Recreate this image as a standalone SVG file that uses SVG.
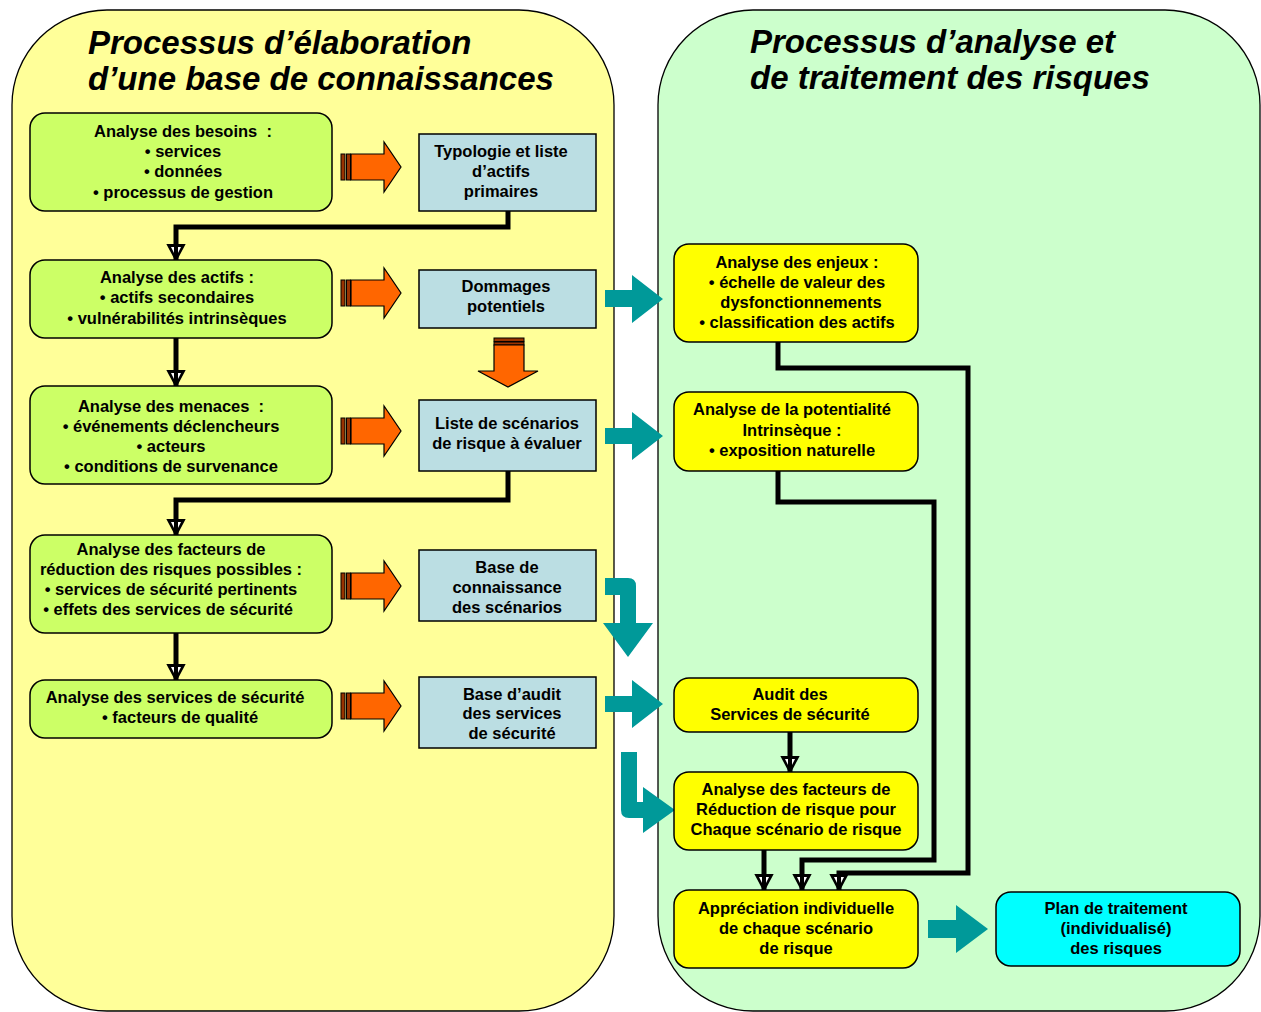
<svg xmlns="http://www.w3.org/2000/svg" width="1261" height="1012" viewBox="0 0 1261 1012">
<style>
.title{font-family:"Liberation Sans",Arial,sans-serif;font-weight:bold;font-style:italic;font-size:33px;fill:#000}
.t{font-family:"Liberation Sans",Arial,sans-serif;font-weight:bold;font-size:16.5px;fill:#000;text-anchor:middle;white-space:pre}
.green{fill:#ccff66;stroke:#000;stroke-width:1.5}
.blue{fill:#bbdee3;stroke:#000;stroke-width:1.5}
.yel{fill:#ffff00;stroke:#000;stroke-width:1.5}
.cyan{fill:#00ffff;stroke:#000;stroke-width:1.5}
.conn{fill:none;stroke:#000;stroke-width:5;stroke-linejoin:miter;marker-end:url(#ah)}
.orange{fill:#ff6600;stroke:#000;stroke-width:1.2}
.stripe{fill:#993300;stroke:#000;stroke-width:1}
.teal{fill:#009999}
</style>
<defs>
<marker id="ah" markerUnits="userSpaceOnUse" markerWidth="20" markerHeight="20" viewBox="-1 -1 20 20" refX="16" refY="9" orient="auto">
<polygon points="1,1 16,9 1,17" fill="#000" stroke="#000" stroke-width="2" stroke-linejoin="miter"/>
<polygon points="3,4 9,7 3,7" fill="#fff"/>
<polygon points="3,14 9,11 3,11" fill="#fff"/>
</marker>
</defs>

<g id="container-left">
<rect x="12" y="10" width="602" height="1001" rx="95" ry="95" fill="#ffff99" stroke="#000" stroke-width="1.3"/>
<text class="title" x="88" y="54">Processus d’élaboration</text>
<text class="title" x="88" y="90">d’une base de connaissances</text>
</g>
<g id="container-right">
<rect x="658" y="10" width="602" height="1001" rx="95" ry="95" fill="#ccffcc" stroke="#000" stroke-width="1.3"/>
<text class="title" x="750" y="53">Processus d’analyse et</text>
<text class="title" x="750" y="89">de traitement des risques</text>
</g>

<g id="connectors">
<path class="conn" d="M508,211 V227 H176 V260"/>
<path class="conn" d="M176,338 V386"/>
<path class="conn" d="M508,471 V500 H176 V535"/>
<path class="conn" d="M176,633 V680"/>
<path class="conn" d="M790,732 V772"/>
<path class="conn" d="M764,850 V890"/>
<path class="conn" d="M778,471 V502 H934 V860 H802 V890"/>
<path class="conn" d="M778,342 V368 H968 V873 H839 V890"/>
<g id="orange-arrows">
<g transform="translate(0,167)">
<rect class="stripe" x="341" y="-13" width="4" height="26"/><rect class="stripe" x="346.5" y="-13" width="4" height="26"/>
<path class="orange" d="M351,-13 H384 V-25 L401,0 L384,25 V13 H351 Z"/>
</g>
<g transform="translate(0,293)">
<rect class="stripe" x="341" y="-13" width="4" height="26"/><rect class="stripe" x="346.5" y="-13" width="4" height="26"/>
<path class="orange" d="M351,-13 H384 V-25 L401,0 L384,25 V13 H351 Z"/>
</g>
<g transform="translate(0,431)">
<rect class="stripe" x="341" y="-13" width="4" height="26"/><rect class="stripe" x="346.5" y="-13" width="4" height="26"/>
<path class="orange" d="M351,-13 H384 V-25 L401,0 L384,25 V13 H351 Z"/>
</g>
<g transform="translate(0,586)">
<rect class="stripe" x="341" y="-13" width="4" height="26"/><rect class="stripe" x="346.5" y="-13" width="4" height="26"/>
<path class="orange" d="M351,-13 H384 V-25 L401,0 L384,25 V13 H351 Z"/>
</g>
<g transform="translate(0,706)">
<rect class="stripe" x="341" y="-13" width="4" height="26"/><rect class="stripe" x="346.5" y="-13" width="4" height="26"/>
<path class="orange" d="M351,-13 H384 V-25 L401,0 L384,25 V13 H351 Z"/>
</g>
<g>
<rect class="stripe" x="494" y="338" width="30" height="3.5"/><rect class="stripe" x="494" y="342" width="30" height="3"/>
<path class="orange" d="M494,345 V371 H478 L508,387 L538,371 H524 V345 Z"/>
</g>
</g>
<g id="teal-arrows">
<path class="teal" d="M605,290 H632 V275 L663,299 L632,323 V307 H605 Z"/>
<path class="teal" d="M605,428 H632 V412 L663,436 L632,460 V444 H605 Z"/>
<path class="teal" d="M605,578 H628 Q636,578 636,586 V623 H653 L628,657 L603,623 H620 V595 H605 Z"/>
<path class="teal" d="M605,696 H632 V680 L663,704 L632,728 V712 H605 Z"/>
<path class="teal" d="M621,752 H637 V802 H643 V787 L675,810 L643,833 V818 H629 Q621,818 621,810 Z"/>
<path class="teal" d="M928,920 H956 V905 L988,929 L956,953 V938 H928 Z"/>
</g>
</g>

<g id="n-besoins">
<rect class="green" x="30" y="113" width="302" height="98" rx="15"/>
<text class="t" x="183" y="137">Analyse des besoins  :</text>
<text class="t" x="183" y="157">• services</text>
<text class="t" x="183" y="177">• données</text>
<text class="t" x="183" y="198">• processus de gestion</text>
</g>
<g id="n-typologie">
<rect class="blue" x="419" y="134" width="177" height="77"/>
<text class="t" x="501" y="157">Typologie et liste</text>
<text class="t" x="501" y="177">d’actifs</text>
<text class="t" x="501" y="197">primaires</text>
</g>
<g id="n-actifs">
<rect class="green" x="30" y="260" width="302" height="78" rx="15"/>
<text class="t" x="177" y="283">Analyse des actifs :</text>
<text class="t" x="177" y="303">• actifs secondaires</text>
<text class="t" x="177" y="324">• vulnérabilités intrinsèques</text>
</g>
<g id="n-dommages">
<rect class="blue" x="419" y="270" width="177" height="58"/>
<text class="t" x="506" y="292">Dommages</text>
<text class="t" x="506" y="312">potentiels</text>
</g>
<g id="n-menaces">
<rect class="green" x="30" y="386" width="302" height="98" rx="15"/>
<text class="t" x="171" y="412">Analyse des menaces  :</text>
<text class="t" x="171" y="432">• événements déclencheurs</text>
<text class="t" x="171" y="452">• acteurs</text>
<text class="t" x="171" y="472">• conditions de survenance</text>
</g>
<g id="n-liste">
<rect class="blue" x="419" y="400" width="177" height="71"/>
<text class="t" x="507" y="429">Liste de scénarios</text>
<text class="t" x="507" y="449">de risque à évaluer</text>
</g>
<g id="n-facteurs">
<rect class="green" x="30" y="535" width="302" height="98" rx="15"/>
<text class="t" x="171" y="555">Analyse des facteurs de</text>
<text class="t" x="171" y="575">réduction des risques possibles :</text>
<text class="t" x="171" y="595">• services de sécurité pertinents</text>
<text class="t" x="168" y="615">• effets des services de sécurité</text>
</g>
<g id="n-base-connaissance">
<rect class="blue" x="419" y="550" width="177" height="71"/>
<text class="t" x="507" y="573">Base de</text>
<text class="t" x="507" y="593">connaissance</text>
<text class="t" x="507" y="613">des scénarios</text>
</g>
<g id="n-services">
<rect class="green" x="30" y="680" width="302" height="58" rx="15"/>
<text class="t" x="175" y="703">Analyse des services de sécurité</text>
<text class="t" x="180" y="723">• facteurs de qualité</text>
</g>
<g id="n-base-audit">
<rect class="blue" x="419" y="677" width="177" height="71"/>
<text class="t" x="512" y="700">Base d’audit</text>
<text class="t" x="512" y="719">des services</text>
<text class="t" x="512" y="739">de sécurité</text>
</g>

<g id="n-enjeux">
<rect class="yel" x="674" y="244" width="244" height="98" rx="15"/>
<text class="t" x="797" y="268">Analyse des enjeux :</text>
<text class="t" x="797" y="288">• échelle de valeur des</text>
<text class="t" x="801" y="308">dysfonctionnements</text>
<text class="t" x="797" y="328">• classification des actifs</text>
</g>
<g id="n-potentialite">
<rect class="yel" x="674" y="392" width="244" height="79" rx="15"/>
<text class="t" x="792" y="415">Analyse de la potentialité</text>
<text class="t" x="792" y="436">Intrinsèque :</text>
<text class="t" x="792" y="456">• exposition naturelle</text>
</g>
<g id="n-audit">
<rect class="yel" x="674" y="678" width="244" height="54" rx="15"/>
<text class="t" x="790" y="700">Audit des</text>
<text class="t" x="790" y="720">Services de sécurité</text>
</g>
<g id="n-reduction">
<rect class="yel" x="674" y="772" width="244" height="78" rx="15"/>
<text class="t" x="796" y="795">Analyse des facteurs de</text>
<text class="t" x="796" y="815">Réduction de risque pour</text>
<text class="t" x="796" y="835">Chaque scénario de risque</text>
</g>
<g id="n-appreciation">
<rect class="yel" x="674" y="890" width="244" height="78" rx="15"/>
<text class="t" x="796" y="914">Appréciation individuelle</text>
<text class="t" x="796" y="934">de chaque scénario</text>
<text class="t" x="796" y="954">de risque</text>
</g>
<g id="n-plan">
<rect class="cyan" x="996" y="892" width="244" height="74" rx="15"/>
<text class="t" x="1116" y="914">Plan de traitement</text>
<text class="t" x="1116" y="934">(individualisé)</text>
<text class="t" x="1116" y="954">des risques</text>
</g>
</svg>
